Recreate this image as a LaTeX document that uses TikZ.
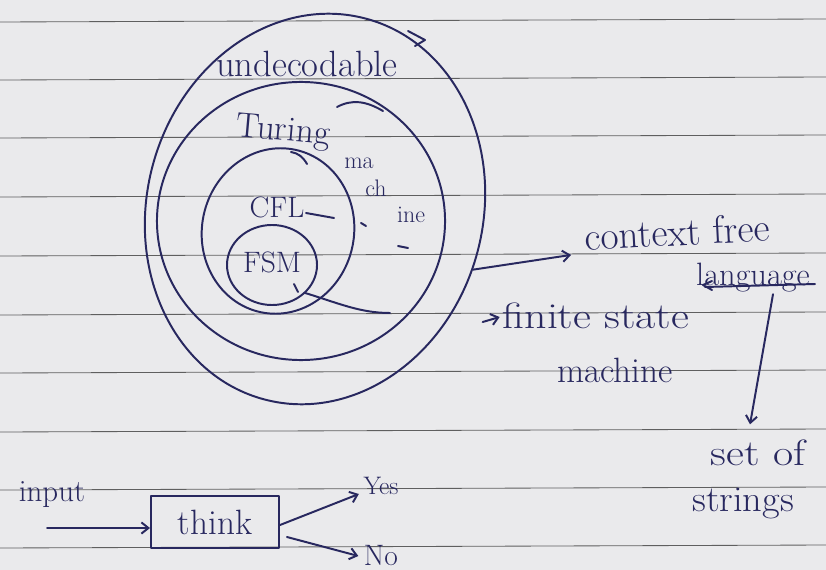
\documentclass[tikz,border=0pt]{standalone}
\usetikzlibrary{shapes.geometric,arrows.meta,calc}
\definecolor{ink}{RGB}{40,40,95}
\definecolor{paper}{RGB}{234,234,236}
\definecolor{rulegray}{RGB}{95,95,95}
\begin{document}
\begin{tikzpicture}[x=0.025cm,y=-0.025cm,
  inkline/.style={draw=ink,line width=1.4pt,line cap=round,line join=round},
  ring/.style={inkline,ellipse,inner sep=0pt},
  arr/.style={inkline,-{Straight Barb[length=5pt,width=8pt]}},
  lbl/.style={text=ink,inner sep=1pt},
  ruled/.style={draw=rulegray,line width=0.6pt}]
\fill[paper] (0,0) rectangle (826,570);
\useasboundingbox (0,0) rectangle (826,570);
\foreach \yy in {22,80,138,197,256,315,373,432,490,548}
  \draw[ruled] (0,\yy) -- (826,\yy-3);

% nested sets
\node[ring,minimum width=8.4cm,minimum height=9.85cm,rotate=-15] (und) at (315,209) {};
\node[ring,minimum width=7.2cm,minimum height=6.95cm] (tmring) at (301,221) {};
\node[ring,minimum width=3.8cm,minimum height=4.15cm,rotate=-12] (cflring) at (278,231) {};
\node[ring,minimum width=2.25cm,minimum height=2.0cm] (fsmring) at (272,265) {};

% labels inside
\node[lbl,font=\fontsize{26}{28}\selectfont] (undl) at (307,64) {undecodable};
\node[lbl,font=\fontsize{25}{28}\selectfont,rotate=-5] (tml) at (283,132) {Turing};
\node[lbl,font=\fontsize{17}{20}\selectfont] (tma) at (359,163) {ma};
\node[lbl,font=\fontsize{17}{20}\selectfont] (tmb) at (376,188) {ch};
\node[lbl,font=\fontsize{17}{20}\selectfont] (tmc) at (411,215) {ine};
\node[lbl,font=\fontsize{21}{24}\selectfont] (cfl) at (277,207) {CFL};
\node[lbl,font=\fontsize{21}{24}\selectfont] (fsm) at (272,262) {FSM};

% small pen strokes
\draw[inkline] (408,31) -- (425,40) -- (415,46);
\draw[inkline] (337,107) .. controls (352,99) and (366,101) .. (383,111);
\draw[inkline] (291,152) .. controls (298,153) and (303,157) .. (307,164);
\draw[inkline] (306,213) -- (334,218);
\draw[inkline] (361,223) -- (366,226);
\draw[inkline] (398,246) -- (408,248);
\draw[inkline] (294,284) -- (298,292);

% right labels
\node[lbl,font=\fontsize{28}{30}\selectfont,rotate=3] (cf) at (677,232) {context free};
\node[lbl,font=\fontsize{23}{26}\selectfont] (lang) at (753,278) {language};
\draw[inkline] (705,287) -- (815,284);
\draw[inkline] (712,281) -- (703,285) -- (712,290);
\node[lbl,font=\fontsize{26}{28}\selectfont,xscale=1.2] (fs) at (596,316) {finite state};
\node[lbl,font=\fontsize{25}{28}\selectfont] (fsm2) at (615,370) {machine};
\node[lbl,font=\fontsize{26}{28}\selectfont,xscale=1.2] (so) at (758,453) {set of};
\node[lbl,font=\fontsize{26}{28}\selectfont,xscale=1.05] (str) at (743,503) {strings};

% connectors on the right
\draw[arr] (und.-6) -- ($(cf.west)+(-12,18)$);
\coordinate (fcurve) at (390,313);
\draw[inkline] (fsmring.-40) .. controls (338,303) and (360,313) .. (fcurve);
\draw[arr] ($(fs.west)+(-18,6)$) -- ($(fs.west)+(-1,1)$);
\draw[arr] ($(lang.south)+(20,0)$) -- ($(so.north)+(-8,-14)$);

% machine box
\node[lbl,font=\fontsize{22}{24}\selectfont] (inp) at (52,495) {input};
\node[inkline,text=ink,minimum width=3.2cm,minimum height=1.28cm,inner sep=0pt,font=\fontsize{25}{28}\selectfont] (box) at (215,522) {think};
\node[lbl,font=\fontsize{18}{20}\selectfont] (yes) at (381,486) {Yes};
\node[lbl,font=\fontsize{21}{24}\selectfont] (no) at (381,556) {No};
\coordinate (in0) at (47,528);
\draw[arr] (in0) -- ($(box.west)+(0,6)$);
\draw[arr] ($(box.east)+(0,3)$) -- ($(yes.west)+(-3,8)$);
\draw[arr] ($(box.east)+(7,15)$) -- ($(no.west)+(-4,0)$);
\end{tikzpicture}
\end{document}
